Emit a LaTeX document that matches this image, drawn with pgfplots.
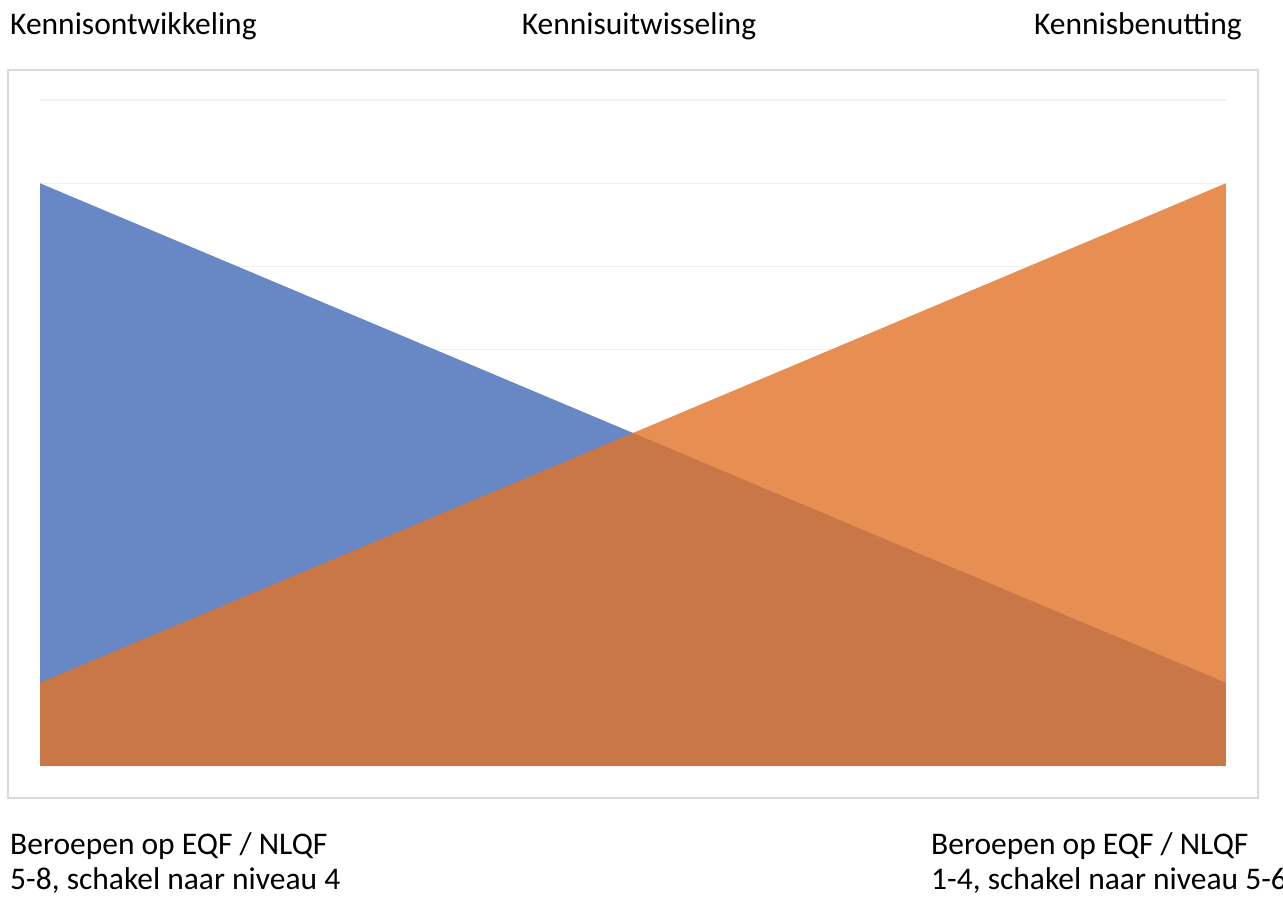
\documentclass[border=0pt]{standalone}
\usepackage{pgfplots}
\pgfplotsset{compat=1.18}
\usepackage{fontspec}
\setmainfont{Carlito}
\definecolor{blueA}{HTML}{6787C5}
\definecolor{orangeA}{HTML}{E27327}
\definecolor{gridc}{HTML}{EFEFEF}
\definecolor{framec}{HTML}{D9D9D9}
\begin{document}
\begin{tikzpicture}[x=1pt,y=1pt]
\clip (0,0) rectangle (1283,899);
\useasboundingbox (0,0) rectangle (1283,899);
\draw[framec, line width=1.5pt] (8,101) rectangle (1258,829);
\begin{axis}[
  at={(40pt,133pt)}, anchor=south west,
  scale only axis, width=1186pt, height=666pt,
  xmin=0, xmax=2, ymin=0, ymax=8,
  ytick={0,1,...,8}, xtick=\empty,
  ymajorgrids, grid style={gridc, line width=1.2pt},
  axis line style={draw=none},
  tick style={draw=none}, yticklabels={},
  clip=false,
]
\addplot[draw=none, fill=white] coordinates {(0,1) (1,4) (2,7)} \closedcycle;
\addplot[draw=none, fill=blueA] coordinates {(0,7) (1,4) (2,1)} \closedcycle;
\addplot[draw=none, fill=orangeA, fill opacity=0.8] coordinates {(0,1) (1,4) (2,7)} \closedcycle;
\end{axis}
\fontsize{31.5}{40}\selectfont
\node[anchor=base west, inner sep=0] at (10,864) {Kennisontwikkeling};
\node[anchor=base, inner sep=0] at (639,864) {Kennisuitwisseling};
\node[anchor=base east, inner sep=0] at (1242,864) {Kennisbenutting};
\node[anchor=base west, inner sep=0] at (10,44) {Beroepen op EQF / NLQF};
\node[anchor=base west, inner sep=0] at (10,9) {5-8, schakel naar niveau 4};
\node[anchor=base west, inner sep=0] at (931,44) {Beroepen op EQF / NLQF};
\node[anchor=base west, inner sep=0] at (931,9) {1-4, schakel naar niveau 5-6};
\end{tikzpicture}
\end{document}
